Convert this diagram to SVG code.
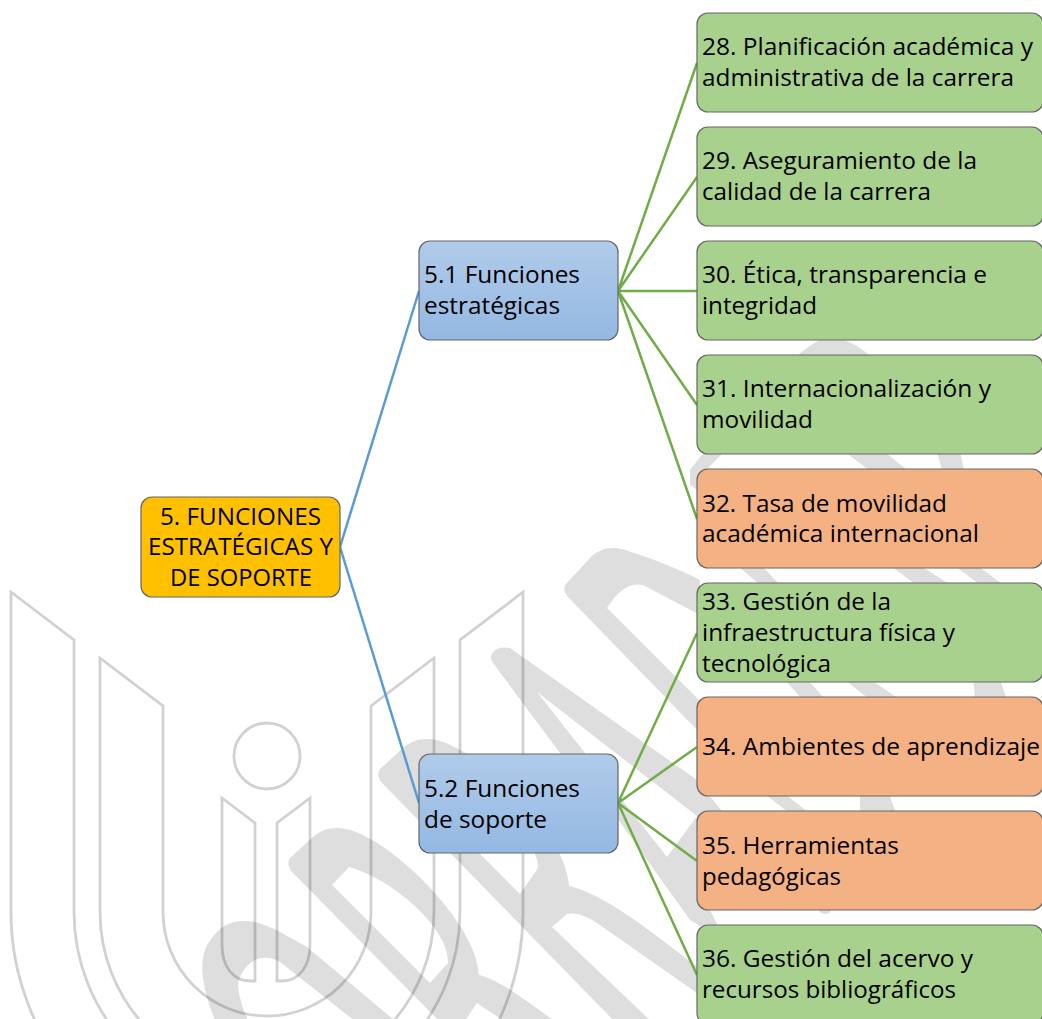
<svg xmlns="http://www.w3.org/2000/svg" width="1042" height="1019" viewBox="0 0 1042 1019">
<style>
.wm{fill:#dedede;fill-rule:evenodd;stroke:none}
.ul{fill:none;stroke:#000;stroke-opacity:.18;stroke-width:2.8}
.n{stroke:#666;stroke-width:1.2}
.g{fill:#a9d18e}.o{fill:#f4b183}.y{fill:#ffc000}.b{fill:url(#bg)}
text{font-family:"Open Sans","Noto Sans",sans-serif;font-size:23px;fill:#000}
.cb{fill:none;stroke:#5b9bd5;stroke-width:2.5}
.cg{fill:none;stroke:#70ad47;stroke-width:2.5}
</style>
<defs><linearGradient id="bg" x1="0" y1="0" x2="0" y2="1"><stop offset="0" stop-color="#b1cbe9"/><stop offset="1" stop-color="#94b8e3"/></linearGradient></defs>
<rect width="1042" height="1019" fill="#fff"/>
<g id="watermark">
<path class="wm" d="M217,1025C200,985 197,955 212,938C225,918 250,915 280,932L307,947L400,1025H360L280,962C262,952 245,960 238,983C238,995 243,1010 250,1025Z"/>
<path class="wm" d="M290,858L313,837C325,826 340,826 356,832C390,846 425,880 445,905C462,927 477,950 479,975C500,980 525,1000 560,1025H510L477,1003L462,1025H443L293,873C288,868 287,862 290,858ZM332,885L349,867C395,880 450,930 448,963L430,983Z"/>
<path class="wm" d="M380,769L403,748C415,737 430,737 446,743C480,757 515,791 535,816C552,838 567,861 569,886C590,891 615,905 650,931L745,1003V1030L697,993L597,923C585,915 575,912 567,914L552,927L655,1025H618L383,784C378,779 377,773 380,769ZM422,796L439,778C485,791 540,841 538,868L520,894Z"/>
<path class="wm" d="M566,584L590,558C600,548 612,546 625,550C650,558 675,567 700,580V615L643,585C630,582 618,590 607,608L700,701V733L568,597C564,592 563,588 566,584Z"/>
<path class="wm" d="M493,663C487,655 495,645 510,648L697,780L725,815L710,910L718,926H700L690,920L620,822L560,753ZM537,692L697,816L667,857Z"/>
<path class="wm" d="M797,356C810,345 820,338 830,338C845,338 858,345 870,356ZM704,452H724L706,470V490H697L690,485V470ZM845,452H885L907,470H869ZM937,452H960L964,470H942ZM738,566H762L779,584H759ZM891,566H921L949,584H915ZM955,566H978L1002,584H979ZM785,680H808L825,699H802ZM845,680H871L899,699H869ZM973,680H1000L1007,699H975ZM765,794H785L809,813H789ZM860,794H889L896,813H860ZM817,908H832L829,913Q825,915 821,913Z"/>
<path class="ul" d="M11,592L74,640V912A193,193 0 0 0 460,912V640L523,592V912A256,256 0 0 1 11,912Z"/>
<path class="ul" d="M100,658L163,706V912A104,104 0 0 0 371,912V706L434,658V912A167,167 0 0 1 100,912Z"/>
<circle class="ul" cx="267" cy="756" r="33"/>
<path class="ul" d="M222,798L255,823V981H250C232,981 222,965 222,945Z"/>
<path class="ul" d="M310,798L277,823V981H282C300,981 310,965 310,945Z"/>
</g>
<g id="connectors">
<path class="cb" d="M340,547L419,291M340,547L419,803"/>
<path class="cg" d="M618,291L697,63M618,291L697,177M618,291H697M618,291L697,405M618,291L697,519"/>
<path class="cg" d="M618,803L697,633M618,803L697,747M618,803L697,861M618,803L697,975"/>
</g>
<g id="n5"><rect class="n y" x="141" y="497" width="199" height="100" rx="11"/>
<text x="160" y="525" textLength="161" lengthAdjust="spacingAndGlyphs">5. FUNCIONES</text><text x="148" y="555" textLength="185" lengthAdjust="spacingAndGlyphs">ESTRATÉGICAS Y</text><text x="170" y="586" textLength="142" lengthAdjust="spacingAndGlyphs">DE SOPORTE</text></g>
<g id="n51"><rect class="n b" x="419" y="241" width="199" height="99" rx="11"/>
<text x="424" y="283" textLength="156" lengthAdjust="spacingAndGlyphs">5.1 Funciones</text><text x="424" y="314" textLength="136" lengthAdjust="spacingAndGlyphs">estratégicas</text></g>
<g id="n52"><rect class="n b" x="419" y="754" width="199" height="99" rx="11"/>
<text x="424" y="797" textLength="156" lengthAdjust="spacingAndGlyphs">5.2 Funciones</text><text x="424" y="828" textLength="123" lengthAdjust="spacingAndGlyphs">de soporte</text></g>
<g id="n28"><rect class="n g" x="697" y="13" width="346" height="99" rx="11"/>
<text x="702" y="55" textLength="331" lengthAdjust="spacingAndGlyphs">28. Planificación académica y</text><text x="702" y="86" textLength="312" lengthAdjust="spacingAndGlyphs">administrativa de la carrera</text></g>
<g id="n29"><rect class="n g" x="697" y="127" width="346" height="99" rx="11"/>
<text x="702" y="169" textLength="275" lengthAdjust="spacingAndGlyphs">29. Aseguramiento de la</text><text x="702" y="200" textLength="229" lengthAdjust="spacingAndGlyphs">calidad de la carrera</text></g>
<g id="n30"><rect class="n g" x="697" y="241" width="346" height="99" rx="11"/>
<text x="702" y="283" textLength="285" lengthAdjust="spacingAndGlyphs">30. Ética, transparencia e</text><text x="702" y="314" textLength="115" lengthAdjust="spacingAndGlyphs">integridad</text></g>
<g id="n31"><rect class="n g" x="697" y="355" width="346" height="99" rx="11"/>
<text x="702" y="397" textLength="289" lengthAdjust="spacingAndGlyphs">31. Internacionalización y</text><text x="702" y="428" textLength="111" lengthAdjust="spacingAndGlyphs">movilidad</text></g>
<g id="n32"><rect class="n o" x="697" y="469" width="346" height="99" rx="11"/>
<text x="702" y="512" textLength="245" lengthAdjust="spacingAndGlyphs">32. Tasa de movilidad</text><text x="702" y="542" textLength="277" lengthAdjust="spacingAndGlyphs">académica internacional</text></g>
<g id="n33"><rect class="n g" x="697" y="583" width="346" height="99" rx="11"/>
<text x="702" y="610" textLength="189" lengthAdjust="spacingAndGlyphs">33. Gestión de la</text><text x="702" y="641" textLength="253" lengthAdjust="spacingAndGlyphs">infraestructura física y</text><text x="702" y="672" textLength="129" lengthAdjust="spacingAndGlyphs">tecnológica</text></g>
<g id="n34"><rect class="n o" x="697" y="697" width="346" height="99" rx="11"/>
<text x="702" y="755" textLength="338" lengthAdjust="spacingAndGlyphs">34. Ambientes de aprendizaje</text></g>
<g id="n35"><rect class="n o" x="697" y="811" width="346" height="99" rx="11"/>
<text x="702" y="854" textLength="197" lengthAdjust="spacingAndGlyphs">35. Herramientas</text><text x="702" y="885" textLength="139" lengthAdjust="spacingAndGlyphs">pedagógicas</text></g>
<g id="n36"><rect class="n g" x="697" y="925" width="346" height="99" rx="11"/>
<text x="702" y="967" textLength="271" lengthAdjust="spacingAndGlyphs">36. Gestión del acervo y</text><text x="702" y="998" textLength="254" lengthAdjust="spacingAndGlyphs">recursos bibliográficos</text></g>
</svg>
